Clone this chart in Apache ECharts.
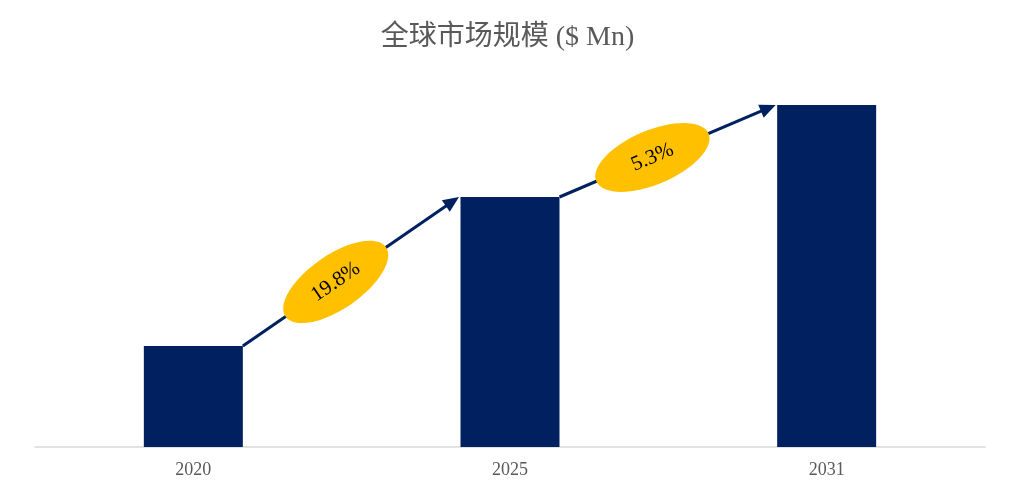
<!DOCTYPE html>
<html>
<head>
<meta charset="utf-8">
<script src="https://cdn.jsdelivr.net/npm/echarts@6/dist/echarts.min.js"></script>
<style>html,body{margin:0;padding:0;background:#fff;}#c{width:1015px;height:485px;}</style>
</head>
<body>
<div id="c"></div>
<script>
var years = ['2020', '2025', '2031'];
var marketSize = [101, 250, 342];
var cagrLabels = ['19.8%', '5.3%'];

var segments = [];
for (var k = 0; k < cagrLabels.length; k++) {
  segments.push([k, marketSize[k], marketSize[k + 1]]);
}

var NAVY = '#002060';
var HALF_BAR = 49.5;

var chart = echarts.init(document.getElementById('c'));
chart.setOption({
  backgroundColor: '#fff',
  animation: false,
  title: {
    text: '全球市场规模 ($ Mn)',
    left: 'center',
    top: 19,
    textStyle: { fontFamily: '"Times New Roman", "Liberation Serif", "Noto Sans CJK SC", serif', fontSize: 28, fontWeight: 'normal', color: '#595959' }
  },
  grid: { left: 35, right: 30, top: 105, bottom: 38 },
  xAxis: {
    type: 'category',
    data: years,
    axisTick: { show: false },
    axisLine: { lineStyle: { color: '#d9d9d9', width: 1.5 } },
    axisLabel: { margin: 14, fontSize: 18, color: '#595959', fontFamily: '"Times New Roman", "Liberation Serif", serif' }
  },
  yAxis: { type: 'value', min: 0, max: 342, show: false, splitLine: { show: false } },
  series: [
    {
      type: 'bar',
      data: marketSize,
      barWidth: 99,
      itemStyle: { color: NAVY }
    },
    {
      type: 'custom',
      data: segments,
      clip: false,
      z: 5,
      renderItem: function (params, api) {
        var i = api.value(0);
        var a = api.coord([i, api.value(1)]);
        var b = api.coord([i + 1, api.value(2)]);
        var x1 = a[0] + HALF_BAR, y1 = a[1];
        var x2 = b[0] - HALF_BAR - 1.5, y2 = b[1];
        var dx = x2 - x1, dy = y2 - y1;
        var len = Math.sqrt(dx * dx + dy * dy);
        var ux = dx / len, uy = dy / len;
        var px = -uy, py = ux;
        var headL = 16, headW = 7;
        var bx = x2 - ux * headL, by = y2 - uy * headL;
        var t = 0.43;
        var cx = x1 + dx * t, cy = y1 + dy * t;
        var rot = Math.atan2(y1 - y2, x2 - x1);
        return {
          type: 'group',
          children: [
            { type: 'line', shape: { x1: x1, y1: y1, x2: bx + ux * 2, y2: by + uy * 2 }, style: { stroke: NAVY, lineWidth: 3 } },
            { type: 'polygon', shape: { points: [[x2, y2], [bx + px * headW, by + py * headW], [bx - px * headW, by - py * headW]] }, style: { fill: NAVY } },
            {
              type: 'group', x: cx, y: cy, rotation: rot,
              children: [
                { type: 'ellipse', shape: { cx: 0, cy: 0, rx: 61, ry: 27 }, style: { fill: '#ffc000' } },
                { type: 'text', x: 0, y: 0, style: { text: cagrLabels[params.dataIndex], x: 0, y: 0, align: 'center', verticalAlign: 'middle', font: '21px "Times New Roman", "Liberation Serif", serif', fill: '#000' } }
              ]
            }
          ]
        };
      }
    }
  ]
});
</script>
</body>
</html>
